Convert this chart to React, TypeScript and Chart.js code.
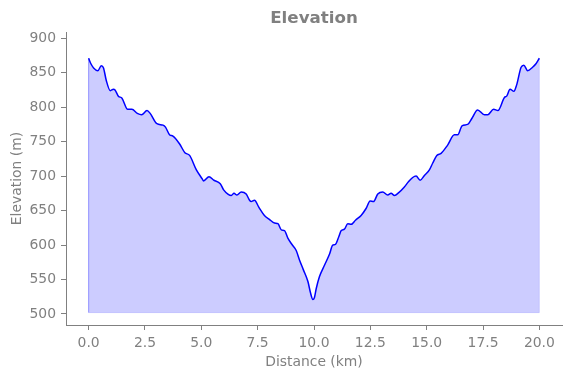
import React, { useEffect, useRef } from "react";
import { Chart, registerables } from "chart.js";

Chart.register(...registerables);

const distanceKm = [
  0.0, 0.1, 0.22, 0.41, 0.56, 0.66, 0.78, 0.96, 1.1, 1.17, 1.32, 1.48, 1.73, 1.92, 2.16, 2.35, 2.59, 2.73,
  3.03, 3.3, 3.41, 3.59, 3.74, 4.03, 4.27, 4.48, 4.78, 5.04, 5.1, 5.34, 5.56, 5.84, 5.99, 6.18, 6.33, 6.45,
  6.58, 6.77, 6.99, 7.14, 7.21, 7.36, 7.55, 7.8, 8.03, 8.25, 8.4, 8.55, 8.69, 8.84, 9.04, 9.21, 9.36, 9.53,
  9.73, 9.85, 9.95, 10.02, 10.1, 10.24, 10.47, 10.69, 10.83, 10.95, 11.1, 11.21, 11.35, 11.5, 11.65, 11.84,
  12.09, 12.31, 12.49, 12.64, 12.83, 13.05, 13.27, 13.42, 13.57, 13.76, 14.0, 14.2, 14.38, 14.53, 14.71,
  14.9, 15.12, 15.27, 15.45, 15.64, 15.93, 16.23, 16.38, 16.57, 16.82, 17.01, 17.26, 17.56, 17.71, 17.97,
  18.16, 18.45, 18.55, 18.7, 18.87, 18.99, 19.19, 19.31, 19.48, 19.7, 19.85, 20.0,
];

const elevationM = [
  871, 863, 857, 853, 860, 857, 839, 824, 826, 825, 816, 813, 797, 797, 791, 789, 795, 791,
  776, 774, 771, 760, 758, 747, 734, 730, 709, 696, 693, 699, 694, 689, 680, 674, 672, 675,
  672.5, 677, 674, 665, 663, 665, 655, 643, 637, 632, 631, 622, 621, 610, 600, 592, 578, 564,
  547, 530, 521, 524, 537, 554, 571, 587, 600, 601, 612, 621, 623, 631, 630, 636,
  643, 653, 664, 663, 674, 677, 672.5, 675, 672, 676, 684, 692, 698, 700, 694,
  701, 709, 719, 730, 733, 745, 760, 760, 773, 775, 784, 796, 789, 789, 797,
  795, 814, 816, 826, 823, 832, 858, 861, 853, 858, 863, 871,
];

const FILL_BASE = 502;
const xTicks = [0, 2.5, 5, 7.5, 10, 12.5, 15, 17.5, 20];
const yTicks = [500, 550, 600, 650, 700, 750, 800, 850, 900];

const GRAY = "#808080";
const FONT = "DejaVu Sans";

export default function App() {
  const ref = useRef<HTMLCanvasElement>(null);

  useEffect(() => {
    document.body.style.margin = "0";
    const canvas = ref.current;
    if (!canvas) return;
    const points = distanceKm.map((x, i) => ({ x, y: elevationM[i] }));
    const last = distanceKm.length - 1;
    const outline = [
      { x: distanceKm[0], y: elevationM[0] },
      { x: distanceKm[0], y: FILL_BASE },
      { x: distanceKm[last], y: FILL_BASE },
      { x: distanceKm[last], y: elevationM[last] },
    ];
    const tickFont = { family: FONT, size: 13.9 };
    const chart = new Chart(canvas, {
      type: "line",
      data: {
        datasets: [
          {
            data: outline,
            borderColor: "rgba(0,0,255,0.16)",
            borderWidth: 1,
            pointRadius: 0,
            fill: false,
            tension: 0,
          },
          {
            data: points,
            borderColor: "#0000ff",
            borderWidth: 1.5,
            backgroundColor: "rgba(0,0,255,0.2)",
            pointRadius: 0,
            fill: { value: FILL_BASE },
            cubicInterpolationMode: "monotone",
          },
        ],
      },
      options: {
        responsive: false,
        animation: false,
        layout: { padding: { left: 0, right: 9, top: 0, bottom: 0 } },
        plugins: {
          legend: { display: false },
          tooltip: { enabled: false },
          title: {
            display: true,
            text: "Elevation",
            color: GRAY,
            font: { family: FONT, size: 16.7, weight: "bold" },
            padding: { top: 8.5, bottom: 3.5 },
            fullSize: false,
          },
        },
        scales: {
          x: {
            type: "linear",
            min: -1.005,
            max: 21.005,
            afterBuildTicks: (s: any) => {
              s.ticks = xTicks.map((v) => ({ value: v }));
            },
            afterFit: (s: any) => {
              s.height = 53;
            },
            ticks: {
              color: GRAY,
              font: tickFont,
              padding: 5,
              maxRotation: 0,
              autoSkip: false,
              callback: (v: any) => Number(v).toFixed(1),
            },
            grid: { display: true, drawOnChartArea: false, drawTicks: true, tickLength: 5, color: GRAY },
            border: { display: true, color: GRAY, width: 1 },
            title: {
              display: true,
              text: "Distance (km)",
              color: GRAY,
              font: tickFont,
              padding: { top: 0, bottom: 7.7 },
            },
          },
          y: {
            type: "linear",
            min: 484,
            max: 909,
            afterBuildTicks: (s: any) => {
              s.ticks = yTicks.map((v) => ({ value: v }));
            },
            afterFit: (s: any) => {
              s.width = 66;
            },
            ticks: {
              color: GRAY,
              font: tickFont,
              padding: 5,
              autoSkip: false,
              callback: (v: any) => String(v),
            },
            grid: { display: true, drawOnChartArea: false, drawTicks: true, tickLength: 5, color: GRAY },
            border: { display: true, color: GRAY, width: 1 },
            title: {
              display: true,
              text: "Elevation (m)",
              color: GRAY,
              font: tickFont,
              padding: { top: 8.7, bottom: 0 },
            },
          },
        },
      },
    } as any);
    return () => chart.destroy();
  }, []);

  return (
    <div style={{ width: 571, height: 378 }}>
      <canvas ref={ref} width={571} height={378} style={{ display: "block" }} />
    </div>
  );
}
